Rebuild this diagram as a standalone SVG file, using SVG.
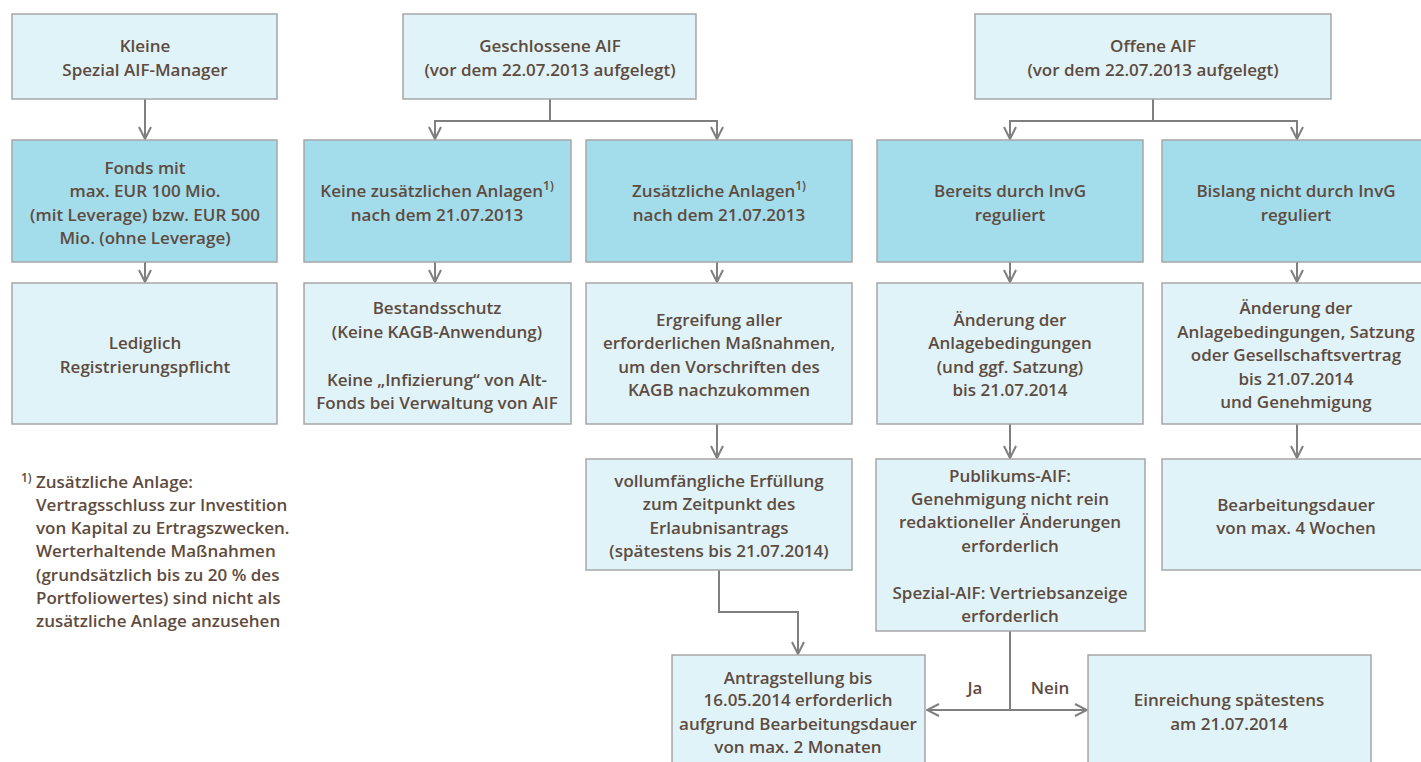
<svg xmlns="http://www.w3.org/2000/svg" width="1421" height="762" viewBox="0 0 1421 762">
<style>
.lt{fill:#e0f3f9;stroke:#a6a6a6;stroke-width:1.5}
.dk{fill:#a3ddec;stroke:#a6a6a6;stroke-width:1.5}
text{font-family:"Open Sans","Noto Sans",sans-serif;font-size:17px;font-weight:600;fill:#5e4b3e;text-anchor:middle}
.fn{text-anchor:start}
.sup{font-size:12px}
.c{fill:none;stroke:#7f7f7f;stroke-width:2}
</style>
<defs>
<marker id="ah" viewBox="0 0 14 14" refX="13" refY="7" markerWidth="14" markerHeight="14" markerUnits="userSpaceOnUse" orient="auto">
<path d="M1,1 L13,7 L1,13" fill="none" stroke="#7f7f7f" stroke-width="2"/>
</marker>
</defs>
<rect width="1421" height="762" fill="#fff"/>
<g id="connectors">
<path class="c" d="M145,99 V139" marker-end="url(#ah)"/>
<path class="c" d="M550,99 V121"/>
<path class="c" d="M435,121 H717"/>
<path class="c" d="M435,120 V139" marker-end="url(#ah)"/>
<path class="c" d="M717,120 V139" marker-end="url(#ah)"/>
<path class="c" d="M1153,99 V121"/>
<path class="c" d="M1010,121 H1297"/>
<path class="c" d="M1010,120 V139" marker-end="url(#ah)"/>
<path class="c" d="M1297,120 V139" marker-end="url(#ah)"/>
<path class="c" d="M145,262 V282" marker-end="url(#ah)"/>
<path class="c" d="M435,262 V282" marker-end="url(#ah)"/>
<path class="c" d="M717,262 V282" marker-end="url(#ah)"/>
<path class="c" d="M1010,262 V282" marker-end="url(#ah)"/>
<path class="c" d="M1297,262 V282" marker-end="url(#ah)"/>
<path class="c" d="M717,424 V458" marker-end="url(#ah)"/>
<path class="c" d="M1010,424 V458" marker-end="url(#ah)"/>
<path class="c" d="M1297,424 V458" marker-end="url(#ah)"/>
<path class="c" d="M719,570 V612 H798 V654" marker-end="url(#ah)"/>
<path class="c" d="M1010,631 V710"/>
<path class="c" d="M1010,710 H927" marker-end="url(#ah)"/>
<path class="c" d="M1010,710 H1087" marker-end="url(#ah)"/>
<text x="975" y="694">Ja</text>
<text x="1050" y="694">Nein</text>
</g>
<g id="kleine">
<rect class="lt" x="12" y="14" width="265" height="85"/>
<text x="145" y="52">Kleine</text>
<text x="145" y="76">Spezial AIF-Manager</text>
</g>
<g id="geschlossene">
<rect class="lt" x="403" y="14" width="293" height="85"/>
<text x="550" y="52">Geschlossene AIF</text>
<text x="550" y="76">(vor dem 22.07.2013 aufgelegt)</text>
</g>
<g id="offene">
<rect class="lt" x="975" y="14" width="356" height="85"/>
<text x="1153" y="52">Offene AIF</text>
<text x="1153" y="76">(vor dem 22.07.2013 aufgelegt)</text>
</g>
<g id="fonds">
<rect class="dk" x="12" y="140" width="265" height="122"/>
<text x="145" y="174">Fonds mit</text>
<text x="145" y="197">max. EUR 100 Mio.</text>
<text x="145" y="221">(mit Leverage) bzw. EUR 500</text>
<text x="145" y="244">Mio. (ohne Leverage)</text>
</g>
<g id="keine-zus">
<rect class="dk" x="304" y="140" width="267" height="122"/>
<text x="437" y="197">Keine zusätzlichen Anlagen<tspan class="sup" dy="-7">1)</tspan></text>
<text x="437" y="221">nach dem 21.07.2013</text>
</g>
<g id="zus">
<rect class="dk" x="586" y="140" width="266" height="122"/>
<text x="719" y="197">Zusätzliche Anlagen<tspan class="sup" dy="-7">1)</tspan></text>
<text x="719" y="221">nach dem 21.07.2013</text>
</g>
<g id="bereits">
<rect class="dk" x="877" y="140" width="266" height="122"/>
<text x="1010" y="197">Bereits durch InvG</text>
<text x="1010" y="221">reguliert</text>
</g>
<g id="bislang">
<rect class="dk" x="1162" y="140" width="270" height="122"/>
<text x="1296" y="197">Bislang nicht durch InvG</text>
<text x="1296" y="221">reguliert</text>
</g>
<g id="lediglich">
<rect class="lt" x="12" y="283" width="265" height="141"/>
<text x="145" y="349">Lediglich</text>
<text x="145" y="373">Registrierungspflicht</text>
</g>
<g id="bestandsschutz">
<rect class="lt" x="304" y="283" width="267" height="141"/>
<text x="437" y="314">Bestandsschutz</text>
<text x="437" y="338">(Keine KAGB-Anwendung)</text>
<text x="437" y="386">Keine „Infizierung“ von Alt-</text>
<text x="437" y="409">Fonds bei Verwaltung von AIF</text>
</g>
<g id="ergreifung">
<rect class="lt" x="586" y="283" width="266" height="141"/>
<text x="719" y="326">Ergreifung aller</text>
<text x="719" y="349">erforderlichen Maßnahmen,</text>
<text x="719" y="373">um den Vorschriften des</text>
<text x="719" y="396">KAGB nachzukommen</text>
</g>
<g id="aenderung1">
<rect class="lt" x="877" y="283" width="266" height="141"/>
<text x="1010" y="326">Änderung der</text>
<text x="1010" y="349">Anlagebedingungen</text>
<text x="1010" y="373">(und ggf. Satzung)</text>
<text x="1010" y="396">bis 21.07.2014</text>
</g>
<g id="aenderung2">
<rect class="lt" x="1162" y="283" width="270" height="141"/>
<text x="1296" y="314">Änderung der</text>
<text x="1296" y="338">Anlagebedingungen, Satzung</text>
<text x="1296" y="361">oder Gesellschaftsvertrag</text>
<text x="1296" y="385">bis 21.07.2014</text>
<text x="1296" y="408">und Genehmigung</text>
</g>
<g id="vollumfaenglich">
<rect class="lt" x="586" y="459" width="266" height="111"/>
<text x="719" y="487">vollumfängliche Erfüllung</text>
<text x="719" y="510">zum Zeitpunkt des</text>
<text x="719" y="534">Erlaubnisantrags</text>
<text x="719" y="557">(spätestens bis 21.07.2014)</text>
</g>
<g id="publikums">
<rect class="lt" x="876" y="459" width="269" height="172"/>
<text x="1010" y="482">Publikums-AIF:</text>
<text x="1010" y="505">Genehmigung nicht rein</text>
<text x="1010" y="528">redaktioneller Änderungen</text>
<text x="1010" y="552">erforderlich</text>
<text x="1010" y="599">Spezial-AIF: Vertriebsanzeige</text>
<text x="1010" y="622">erforderlich</text>
</g>
<g id="bearbeitung">
<rect class="lt" x="1162" y="459" width="270" height="111"/>
<text x="1296" y="511">Bearbeitungsdauer</text>
<text x="1296" y="534">von max. 4 Wochen</text>
</g>
<g id="antrag">
<rect class="lt" x="672" y="655" width="253" height="120"/>
<text x="798" y="684">Antragstellung bis</text>
<text x="798" y="706">16.05.2014 erforderlich</text>
<text x="798" y="730">aufgrund Bearbeitungsdauer</text>
<text x="798" y="753">von max. 2 Monaten</text>
</g>
<g id="einreichung">
<rect class="lt" x="1088" y="655" width="283" height="120"/>
<text x="1229" y="706">Einreichung spätestens</text>
<text x="1229" y="730">am 21.07.2014</text>
</g>
<g id="footnote">
<text class="fn sup" x="21" y="482">1)</text>
<text class="fn" x="36" y="488">Zusätzliche Anlage:</text>
<text class="fn" x="36" y="511">Vertragsschluss zur Investition</text>
<text class="fn" x="36" y="534">von Kapital zu Ertragszwecken.</text>
<text class="fn" x="36" y="557">Werterhaltende Maßnahmen</text>
<text class="fn" x="36" y="581">(grundsätzlich bis zu 20 % des</text>
<text class="fn" x="36" y="604">Portfoliowertes) sind nicht als</text>
<text class="fn" x="36" y="627">zusätzliche Anlage anzusehen</text>
</g>
</svg>
